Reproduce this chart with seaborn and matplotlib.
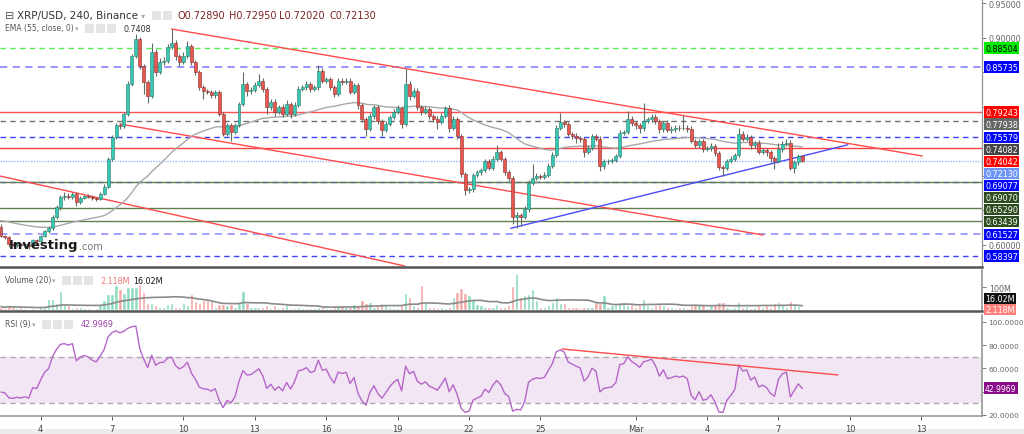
import numpy as np
import pandas as pd
import matplotlib
matplotlib.use("Agg")
import matplotlib.pyplot as plt
import matplotlib.dates as mdates
import matplotlib.transforms as mtransforms
from matplotlib.patches import Rectangle
import seaborn as sns

# ---------------- data ----------------
title_text = "XRP/USD, 240, Binance"
first_bar = "2022-02-02 08:00"
bar_freq = "4h"
first_open = 0.626

close = [
    0.613, 0.611, 0.601, 0.600, 0.601, 0.600, 0.601, 0.599, 0.607, 0.606,
    0.613, 0.620, 0.624, 0.640, 0.655, 0.669, 0.671, 0.670, 0.674, 0.662,
    0.668, 0.671, 0.670, 0.668, 0.667, 0.674, 0.684, 0.724, 0.756, 0.774,
    0.772, 0.789, 0.833, 0.873, 0.898, 0.859, 0.836, 0.816, 0.879, 0.850,
    0.865, 0.866, 0.887, 0.892, 0.873, 0.865, 0.873, 0.888, 0.865, 0.850,
    0.828, 0.823, 0.822, 0.817, 0.821, 0.790, 0.761, 0.773, 0.764, 0.774,
    0.804, 0.833, 0.823, 0.824, 0.831, 0.838, 0.826, 0.799, 0.807, 0.793,
    0.799, 0.790, 0.804, 0.790, 0.803, 0.826, 0.828, 0.833, 0.826, 0.828,
    0.852, 0.838, 0.840, 0.828, 0.819, 0.838, 0.836, 0.838, 0.822, 0.831,
    0.802, 0.782, 0.768, 0.787, 0.799, 0.780, 0.766, 0.775, 0.785, 0.793,
    0.798, 0.775, 0.833, 0.816, 0.823, 0.799, 0.792, 0.797, 0.787, 0.783,
    0.778, 0.787, 0.798, 0.770, 0.782, 0.758, 0.703, 0.679, 0.681, 0.701,
    0.705, 0.708, 0.721, 0.712, 0.725, 0.734, 0.725, 0.705, 0.697, 0.640,
    0.643, 0.640, 0.652, 0.690, 0.697, 0.700, 0.699, 0.701, 0.715, 0.730,
    0.770, 0.778, 0.775, 0.761, 0.758, 0.755, 0.753, 0.734, 0.741, 0.757,
    0.753, 0.715, 0.721, 0.722, 0.723, 0.729, 0.762, 0.764, 0.782, 0.776,
    0.773, 0.769, 0.780, 0.782, 0.785, 0.779, 0.768, 0.777, 0.767, 0.768,
    0.770, 0.769, 0.770, 0.768, 0.751, 0.745, 0.751, 0.739, 0.740, 0.743,
    0.733, 0.713, 0.712, 0.721, 0.725, 0.730, 0.761, 0.754, 0.756, 0.744,
    0.748, 0.735, 0.737, 0.734, 0.726, 0.722, 0.739, 0.746, 0.748, 0.712,
    0.720, 0.7289, 0.7213,
]

upper_wick_milli = [
    4, 2, 2, 2, 2, 2, 2, 2, 2, 2,
    2, 2, 3, 4, 3, 3, 5, 4, 3, 2,
    3, 2, 3, 2, 2, 2, 4, 4, 3, 3,
    3, 3, 5, 4, 7, 3, 3, 3, 14, 4,
    6, 6, 4, 20, 4, 4, 6, 7, 3, 3,
    3, 4, 3, 3, 3, 3, 3, 4, 4, 3,
    3, 17, 3, 4, 5, 9, 3, 3, 4, 4,
    4, 5, 6, 3, 4, 4, 3, 5, 3, 4,
    9, 4, 3, 3, 4, 3, 4, 3, 3, 4,
    3, 3, 3, 4, 4, 3, 3, 4, 3, 4,
    4, 3, 22, 4, 4, 4, 3, 4, 3, 3,
    3, 4, 3, 4, 4, 3, 3, 3, 3, 3,
    3, 3, 4, 3, 4, 11, 3, 3, 3, 3,
    4, 3, 4, 4, 20, 4, 3, 4, 3, 4,
    4, 13, 3, 3, 3, 4, 3, 3, 3, 4,
    4, 4, 4, 3, 3, 3, 4, 3, 12, 4,
    3, 3, 25, 3, 4, 4, 3, 3, 4, 4,
    3, 4, 18, 4, 4, 3, 3, 3, 3, 4,
    3, 3, 3, 4, 4, 3, 9, 4, 4, 3,
    3, 4, 3, 3, 3, 3, 9, 4, 6, 4,
    3, 3, 0.6,
]

lower_wick_milli = [
    2, 3, 4, 2, 3, 2, 2, 5, 2, 2,
    2, 2, 3, 2, 3, 4, 4, 3, 3, 5,
    3, 2, 2, 3, 4, 2, 2, 2, 3, 2,
    4, 3, 3, 3, 3, 4, 18, 10, 4, 6,
    3, 4, 3, 4, 5, 6, 3, 3, 4, 4,
    4, 12, 3, 5, 4, 3, 3, 3, 14, 3,
    3, 3, 8, 4, 3, 3, 4, 9, 3, 6,
    4, 5, 4, 6, 4, 3, 3, 3, 4, 3,
    4, 3, 4, 4, 5, 3, 4, 3, 4, 3,
    5, 4, 10, 3, 4, 5, 8, 3, 3, 3,
    3, 5, 3, 6, 4, 4, 4, 3, 4, 5,
    10, 3, 3, 7, 4, 4, 5, 7, 4, 4,
    3, 4, 3, 4, 4, 3, 4, 4, 4, 10,
    16, 12, 3, 4, 3, 3, 4, 4, 3, 4,
    3, 4, 4, 4, 5, 7, 4, 7, 3, 4,
    3, 8, 5, 4, 4, 3, 3, 3, 3, 4,
    5, 7, 4, 3, 4, 4, 6, 4, 4, 5,
    4, 4, 3, 4, 4, 5, 4, 4, 3, 4,
    4, 5, 12, 3, 3, 3, 3, 4, 3, 5,
    4, 3, 4, 5, 6, 12, 3, 4, 3, 4,
    8, 4, 1.1,
]

volume_millions = [
    15, 9, 20, 12, 9, 15, 9, 6, 9, 6,
    15, 12, 50, 50, 30, 82, 30, 20, 10, 15,
    12, 8, 8, 6, 10, 20, 45, 70, 70, 110,
    90, 75, 100, 100, 100, 114, 80, 30, 32, 20,
    15, 12, 25, 30, 15, 12, 30, 20, 70, 40,
    30, 45, 45, 40, 15, 27, 27, 20, 25, 15,
    30, 85, 30, 15, 12, 15, 12, 20, 10, 20,
    10, 15, 20, 10, 10, 15, 8, 10, 8, 10,
    15, 15, 10, 8, 12, 20, 20, 15, 15, 25,
    20, 42, 30, 35, 15, 20, 30, 25, 12, 10,
    8, 20, 75, 57, 20, 15, 110, 35, 15, 12,
    10, 15, 10, 15, 57, 80, 95, 72, 65, 42,
    25, 20, 15, 12, 15, 25, 12, 15, 20, 103,
    156, 57, 65, 70, 90, 45, 15, 12, 20, 35,
    57, 30, 30, 15, 12, 12, 10, 15, 12, 15,
    35, 30, 65, 15, 20, 20, 35, 35, 20, 25,
    15, 20, 50, 20, 15, 20, 25, 20, 12, 15,
    10, 12, 15, 10, 20, 25, 22, 25, 10, 20,
    25, 35, 35, 15, 10, 15, 35, 15, 18, 10,
    12, 20, 15, 20, 15, 30, 35, 25, 12, 38,
    20, 18, 2.118,
]

ema_span = 55
ema_seed = 0.636
rsi_period = 9
rsi_seed_gain = 0.0050
rsi_seed_loss = 0.0060
vol_ma_period = 20

legend_ohlc = ["O0.72890", "H0.72950", "L0.72020", "C0.72130"]
ema_legend_value = "0.7408"
ema_last_value = 0.74082
vol_last_text = "2.118M"
vol_ma_value = 16.02
vol_ma_text = "16.02M"
rsi_last_value = 42.9969

level_prices = [0.88504, 0.85735, 0.79243, 0.77938, 0.75579, 0.74042,
                0.69077, 0.69070, 0.65290, 0.63439, 0.61527, 0.58397]

channel_lines = [
    ("2022-02-09 12:00", 0.9125, "2022-03-13 01:00", 0.7288),
    ("2022-02-07 08:00", 0.7751, "2022-03-06 08:30", 0.6144),
    ("2022-02-02 07:00", 0.6998, "2022-02-19 07:00", 0.5696),
]
support_line = ("2022-02-23 18:00", 0.6241, "2022-03-09 22:00", 0.7450)
rsi_line = ("2022-02-25 21:40", 76.7, "2022-03-09 12:00", 54.3)

price_ticks = [0.60, 0.65, 0.70, 0.75, 0.80, 0.85, 0.90, 0.95]
price_ticks_shown = [0.60, 0.90, 0.95]
rsi_ticks = [20, 40, 60, 80, 100]
rsi_ticks_shown = [20, 60, 80, 100]

tick_days = ["2022-02-04", "2022-02-07", "2022-02-10", "2022-02-13", "2022-02-16",
             "2022-02-19", "2022-02-22", "2022-02-25", "2022-03-01", "2022-03-04",
             "2022-03-07", "2022-03-10", "2022-03-13"]
tick_texts = ["4", "7", "10", "13", "16", "19", "22", "25", "Mar", "4", "7", "10", "13"]

# ---------------- styles ----------------
level_styles = {
    0.88504: dict(color="#55ee55", ls=(0, (4, 3)), lw=1.0, box="#00ee00", fg="black"),
    0.85735: dict(color="#8c8cff", ls=(0, (4, 3)), lw=1.3, box="#0000ff", fg="white"),
    0.79243: dict(color="#ff5050", ls="-", lw=1.0, box="#ff0000", fg="white"),
    0.77938: dict(color="#707070", ls=(0, (4, 3)), lw=1.0, box="#666666", fg="white"),
    0.75579: dict(color="#4040ff", ls=(0, (4, 3)), lw=1.0, box="#0000ff", fg="white"),
    0.74042: dict(color="#ff4040", ls="-", lw=1.0, box="#ff0000", fg="white"),
    0.69077: dict(color="#4040ff", ls=(0, (4, 3)), lw=1.0, box="#0000ff", fg="white"),
    0.69070: dict(color="#62804f", ls="-", lw=1.0, box="#2e4d1f", fg="white"),
    0.65290: dict(color="#62804f", ls="-", lw=1.0, box="#2e4d1f", fg="white"),
    0.63439: dict(color="#62804f", ls="-", lw=1.0, box="#2e4d1f", fg="white"),
    0.61527: dict(color="#9999ff", ls=(0, (4, 3)), lw=1.3, box="#0000ff", fg="white"),
    0.58397: dict(color="#4040ff", ls=(0, (4, 3)), lw=1.0, box="#0000ff", fg="white"),
}

sns.set_theme(style="white")
plt.rcParams["font.family"] = ["DejaVu Sans"]

W, H = 1024, 435
fig = plt.figure(figsize=(W / 100, H / 100), dpi=100)
fig.patch.set_facecolor("white")


def fx(px):
    return px / W


def fy(py):
    return 1 - py / H


right_px = 982
ax_p = fig.add_axes([0, fy(268), fx(right_px), 268 / H])
ax_v = fig.add_axes([0, fy(312), fx(right_px), (312 - 271) / H], sharex=ax_p)
ax_r = fig.add_axes([0, fy(417), fx(right_px), (417 - 316) / H], sharex=ax_p)

times = pd.date_range(first_bar, periods=len(close), freq=bar_freq)
x = mdates.date2num(times.to_pydatetime())
o = np.array([first_open] + close[:-1])
c = np.array(close)
hi = np.maximum(o, c) + np.array(upper_wick_milli) / 1000
lo = np.minimum(o, c) - np.array(lower_wick_milli) / 1000
up = c >= o

# EMA
alpha = 2 / (ema_span + 1)
e = ema_seed
ema = []
for cc in close:
    e = e + alpha * (cc - e)
    ema.append(e)

# RSI (Wilder)
g, l = rsi_seed_gain, rsi_seed_loss
rsi = []
prev = first_open
for cc in close:
    d = cc - prev
    prev = cc
    g = (g * (rsi_period - 1) + max(d, 0)) / rsi_period
    l = (l * (rsi_period - 1) + max(-d, 0)) / rsi_period
    rsi.append(100 - 100 / (1 + g / l))

vol = np.array(volume_millions)
vol_ma = pd.Series(vol).rolling(vol_ma_period, min_periods=1).mean()

# ---------------- main panel ----------------
ymin, ymax = 0.5681, 0.9560
ax_p.set_ylim(ymin, ymax)
xl = mdates.date2num(pd.Timestamp("2022-02-02 07:00").to_pydatetime())
xr = mdates.date2num(pd.Timestamp("2022-03-15 13:15").to_pydatetime())
ax_p.set_xlim(xl, xr)

for lv in level_prices:
    st = level_styles[lv]
    ax_p.axhline(lv, color=st["color"], ls=st["ls"], lw=st["lw"], zorder=1)
ax_p.axhline(close[-1], color="#9db8ff", ls=(0, (1, 1)), lw=1.0, zorder=1)

for (t0, p0, t1, p1) in channel_lines:
    xx = mdates.date2num([pd.Timestamp(t0).to_pydatetime(), pd.Timestamp(t1).to_pydatetime()])
    ax_p.plot(xx, [p0, p1], color="#ff4a4a", lw=1.0, zorder=2)
xx = mdates.date2num([pd.Timestamp(support_line[0]).to_pydatetime(),
                      pd.Timestamp(support_line[2]).to_pydatetime()])
ax_p.plot(xx, [support_line[1], support_line[3]], color="#4a4aff", lw=1.0, zorder=2)

sns.lineplot(x=x, y=ema, ax=ax_p, color="#a8a8a8", lw=1.0, zorder=2)

ax_p.vlines(x, lo, hi, color="#5e6e60", lw=0.8, zorder=3)
body = c - o
small = np.abs(body) < 0.0009
body = np.where(small, 0.0009, body)
ax_p.bar(x, body, bottom=np.where(small, o - 0.00045, o), width=0.125,
         color=np.where(up, "#36c8b3", "#e85650"),
         edgecolor=np.where(up, "#2a7c6e", "#8c2f2b"), lw=0.4, zorder=4)

ax_p.yaxis.tick_right()
ax_p.set_yticks(price_ticks)
ax_p.set_yticklabels([f"{v:.5f}" if v in price_ticks_shown else "" for v in price_ticks])
ax_p.tick_params(axis="y", labelsize=5.8, colors="#666666", length=3, pad=2, width=0.6)
ax_p.tick_params(axis="x", labelbottom=False, length=0)
for s in ["top", "left"]:
    ax_p.spines[s].set_visible(False)
ax_p.spines["right"].set_color("#999999")
ax_p.spines["right"].set_linewidth(1.0)
ax_p.spines["bottom"].set_color("#555555")
ax_p.spines["bottom"].set_linewidth(1.8)
ax_p.set_xlabel("")
ax_p.set_ylabel("")


def stack(vals, sep, down=True):
    idx = sorted(range(len(vals)), key=lambda k: vals[k], reverse=down)
    out = [0] * len(vals)
    last = None
    for k in idx:
        yv = vals[k]
        if last is not None:
            if down and yv > last - sep:
                yv = last - sep
            if not down and yv < last + sep:
                yv = last + sep
        out[k] = yv
        last = yv
    return out


box_vals = list(level_prices) + [ema_last_value, close[-1]]
box_cols = [level_styles[v]["box"] for v in level_prices] + ["#444444", "#6d95f5"]
box_fgs = [level_styles[v]["fg"] for v in level_prices] + ["white", "white"]
ppu = 268 / (ymax - ymin)
pos = stack(box_vals, 12 / ppu, down=True)
trans_p = mtransforms.blended_transform_factory(ax_p.transAxes, ax_p.transData)
for v, yv, bc, fc in zip(box_vals, pos, box_cols, box_fgs):
    ax_p.text(1.0 + 3 / right_px, yv, f"{v:.5f}", transform=trans_p, fontsize=5.8,
              color=fc, va="center", ha="left", clip_on=False, zorder=10,
              bbox=dict(boxstyle="square,pad=0.15", fc=bc, ec="none"))

# ---------------- volume panel ----------------
ax_v.set_ylim(-4, 174)
ax_v.bar(x, vol, width=0.14, color=np.where(up, "#8edcbf", "#f5a9a6"), zorder=2)
sns.lineplot(x=x, y=vol_ma.values, ax=ax_v, color="#8a8a8a", lw=1.2, zorder=3)
ax_v.yaxis.tick_right()
ax_v.set_yticks([100])
ax_v.set_yticklabels(["100M"])
ax_v.tick_params(axis="y", labelsize=5.8, colors="#666666", length=3, pad=2, width=0.6)
ax_v.tick_params(axis="x", labelbottom=False, length=0)
for s in ["top", "left"]:
    ax_v.spines[s].set_visible(False)
ax_v.spines["right"].set_color("#999999")
ax_v.spines["bottom"].set_color("#555555")
ax_v.spines["bottom"].set_linewidth(1.8)
ax_v.set_xlabel("")
ax_v.set_ylabel("")
vpos = stack([vol[-1], vol_ma_value], 11 / (41 / 178), down=False)
trans_v = mtransforms.blended_transform_factory(ax_v.transAxes, ax_v.transData)
for yv, txt, bc in zip(vpos, [vol_last_text, vol_ma_text], ["#ff7f7a", "#111111"]):
    ax_v.text(1.0 + 3 / right_px, yv, txt, transform=trans_v, fontsize=5.8, color="white",
              va="center", ha="left", clip_on=False, zorder=10,
              bbox=dict(boxstyle="square,pad=0.15", fc=bc, ec="none"))

# ---------------- RSI panel ----------------
ax_r.set_ylim(18.9, 106)
ax_r.axhspan(30, 70, color="#f2e6f4", zorder=0, lw=0)
ax_r.axhline(70, color="#aaaaaa", ls=(0, (4, 3)), lw=1.0, zorder=1)
ax_r.axhline(30, color="#aaaaaa", ls=(0, (4, 3)), lw=1.0, zorder=1)
sns.lineplot(x=x, y=rsi, ax=ax_r, color="#b466c8", lw=1.0, zorder=3)
xx = mdates.date2num([pd.Timestamp(rsi_line[0]).to_pydatetime(), pd.Timestamp(rsi_line[2]).to_pydatetime()])
ax_r.plot(xx, [rsi_line[1], rsi_line[3]], color="#ff4a4a", lw=1.0, zorder=4)
ax_r.yaxis.tick_right()
ax_r.set_yticks(rsi_ticks)
ax_r.set_yticklabels([f"{v:.4f}" if v in rsi_ticks_shown else "" for v in rsi_ticks])
ax_r.tick_params(axis="y", labelsize=5.3, colors="#666666", length=3, pad=1.5, width=0.6)
trans_r = mtransforms.blended_transform_factory(ax_r.transAxes, ax_r.transData)
ax_r.text(1.0 + 3 / right_px, rsi_last_value, f"{rsi_last_value:.4f}", transform=trans_r,
          fontsize=5.5, color="white", va="center", ha="left", clip_on=False, zorder=10,
          bbox=dict(boxstyle="square,pad=0.15", fc="#8a0d8a", ec="none"))
for s in ["top", "left"]:
    ax_r.spines[s].set_visible(False)
ax_r.spines["right"].set_color("#999999")
ax_r.spines["bottom"].set_color("#999999")
ax_r.spines["bottom"].set_linewidth(1.2)
ax_r.set_xticks(mdates.date2num([pd.Timestamp(d).to_pydatetime() for d in tick_days]))
ax_r.set_xticklabels(tick_texts)
ax_r.tick_params(axis="x", labelsize=6, colors="#444444", length=3, pad=3, width=0.6,
                 labelbottom=True, bottom=True)
ax_r.set_xlabel("")
ax_r.set_ylabel("")
ax_r.set_xlim(xl, xr)

# ---------------- legends / overlays ----------------
def icons(px0, py, n=3):
    for k in range(n):
        fig.add_artist(Rectangle((fx(px0 + k * 11), fy(py + 5)), fx(9), 9 / H,
                                 transform=fig.transFigure, fc="#e4e4e4", ec="none"))


fig.text(fx(5), fy(16), "\u229f", fontsize=8, color="#555555", va="center")
fig.text(fx(17), fy(16), title_text, fontsize=7.5, color="#333333", va="center")
fig.text(fx(141), fy(16), "\u25be", fontsize=6, color="#aaaaaa", va="center")
icons(152, 16, n=2)
for k, s in enumerate(legend_ohlc):
    fig.text(fx(178 + 50.5 * k), fy(16), s, fontsize=7, color="#7a2222", va="center")
fig.text(fx(5), fy(29), "EMA (55, close, 0)", fontsize=5.5, color="#555555", va="center")
fig.text(fx(75), fy(29), "\u25be", fontsize=5, color="#aaaaaa", va="center")
icons(85, 29)
fig.text(fx(124), fy(29), ema_legend_value, fontsize=5.8, color="#333333", va="center")

fig.text(fx(5), fy(281), "Volume (20)", fontsize=5.5, color="#555555", va="center")
fig.text(fx(52), fy(281), "\u25be", fontsize=5, color="#aaaaaa", va="center")
icons(62, 281)
fig.text(fx(100), fy(281), vol_last_text, fontsize=5.8, color="#f07a72", va="center")
fig.text(fx(133), fy(281), vol_ma_text, fontsize=5.8, color="#111111", va="center")

fig.text(fx(5), fy(325), "RSI (9)", fontsize=5.5, color="#555555", va="center")
fig.text(fx(32), fy(325), "\u25be", fontsize=5, color="#aaaaaa", va="center")
icons(42, 325)
fig.text(fx(81), fy(325), f"{rsi_last_value:.4f}", fontsize=5.8, color="#9b3fab", va="center")

wm = fig.text(fx(9), fy(246), "Investing", fontsize=9.5, weight="bold", color="#1a1a1a",
              va="center")
fig.canvas.draw()
bb = wm.get_window_extent()
fig.text(bb.x1 / W + fx(0.5), fy(247), ".com", fontsize=7, color="#777777", va="center")

fig.add_artist(Rectangle((0, 0), 1, 5 / H, transform=fig.transFigure, fc="#ececec",
                         ec="none", zorder=-5))

fig.savefig("out.png", dpi=100, facecolor="white")
